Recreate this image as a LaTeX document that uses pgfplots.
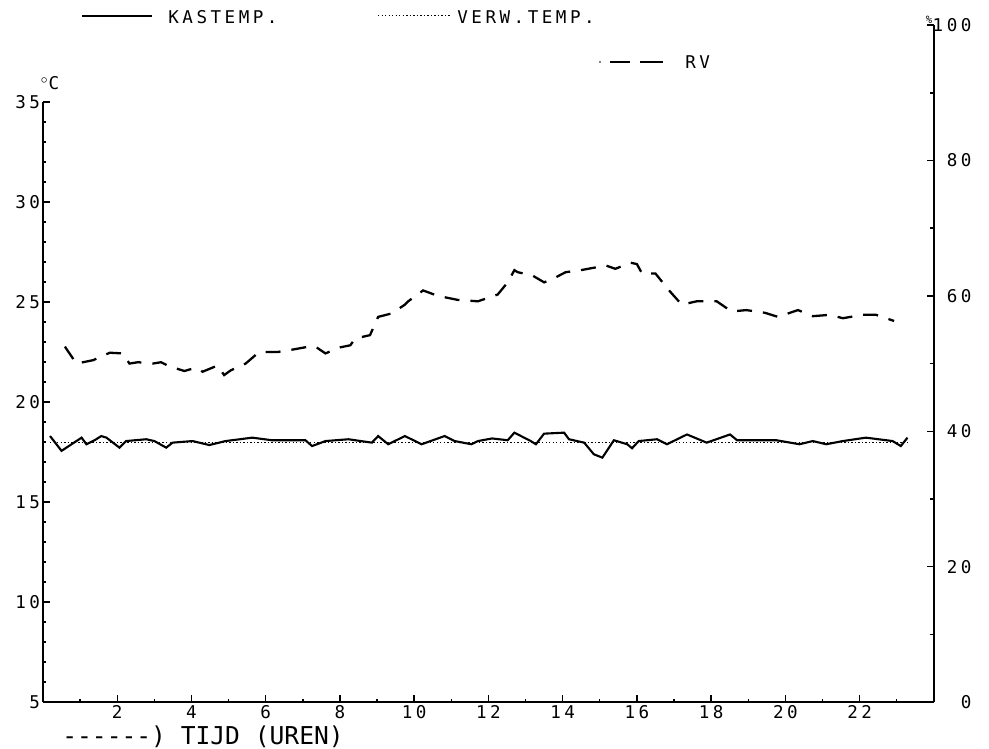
\documentclass[border=0pt]{standalone}
\usepackage{fontspec}
\setmainfont{DejaVu Sans Mono}
\newfontfamily\plotfont[LetterSpace=20]{DejaVu Sans Mono}
\usepackage{pgfplots}
\pgfplotsset{compat=1.18}

% kastemperatuur (graden C) tegen tijd (uren)
\pgfplotstableread{
h T
0.19 18.30
0.50 17.56
0.77 17.89
1.04 18.22
1.17 17.89
1.39 18.09
1.57 18.30
1.71 18.22
2.06 17.72
2.24 18.05
2.78 18.14
3.00 18.05
3.32 17.72
3.49 17.97
4.03 18.05
4.48 17.85
4.92 18.05
5.64 18.22
6.17 18.09
7.07 18.09
7.25 17.80
7.61 18.05
8.23 18.14
8.86 17.97
9.03 18.30
9.30 17.89
9.75 18.30
10.20 17.89
10.82 18.30
11.09 18.05
11.54 17.89
11.72 18.05
12.10 18.18
12.52 18.09
12.70 18.47
13.14 18.05
13.28 17.89
13.50 18.42
14.04 18.47
14.17 18.14
14.58 17.97
14.84 17.39
15.07 17.22
15.38 18.09
15.74 17.89
15.87 17.69
16.05 18.05
16.54 18.14
16.81 17.89
17.35 18.38
17.88 17.97
18.51 18.38
18.70 18.09
19.76 18.09
20.38 17.89
20.74 18.05
21.10 17.89
21.55 18.05
22.17 18.22
22.89 18.05
23.11 17.80
23.29 18.22
}\kastemp

% relatieve vochtigheid (%)
\pgfplotstableread{
h RV
0.59 52.5
0.90 50.0
1.35 50.5
1.80 51.6
2.15 51.5
2.33 50.0
2.56 50.2
2.96 50.0
3.18 50.2
3.40 49.6
3.81 48.9
4.12 49.4
4.30 48.8
4.70 49.7
4.88 48.3
5.06 49.0
5.46 50.0
5.82 51.7
6.31 51.7
6.76 52.1
7.16 52.5
7.34 52.5
7.61 51.5
8.01 52.4
8.28 52.7
8.41 53.7
8.81 54.2
9.03 56.9
9.39 57.4
9.75 58.7
9.84 59.2
10.24 60.8
10.64 60.0
11.18 59.4
11.72 59.2
12.25 60.2
12.52 62.0
12.70 63.8
12.79 63.5
13.19 63.0
13.50 62.0
13.73 62.5
14.08 63.5
14.49 63.8
14.98 64.3
15.16 64.5
15.42 64.0
15.83 64.9
16.00 64.7
16.14 63.3
16.50 63.3
16.90 60.6
17.21 58.7
17.61 59.2
18.15 59.2
18.55 57.7
18.95 57.9
19.45 57.5
19.80 56.9
20.34 57.9
20.74 57.0
21.19 57.2
21.55 56.7
22.08 57.2
22.44 57.2
22.93 56.3
}\rv

\begin{document}
\begin{tikzpicture}[x=0.02cm,y=0.02cm]
\path[use as bounding box] (0,0) rectangle (989,749);

\pgfplotsset{
  plotter/.style={
    scale only axis,
    at={(0.86cm,0.94cm)}, anchor=south west,
    width=17.82cm,
    xmin=0, xmax=24,
    axis line style={line width=1.3pt},
    tick align=inside,
    major tick length=0.14cm,
    minor tick length=0.07cm,
    every tick/.style={line width=0.8pt, black},
    tick label style={font=\plotfont\fontsize{10}{12}\selectfont},
    /pgf/number format/assume math mode=true,
  }
}

\begin{axis}[
  plotter,
  height=12cm,
  ymin=5, ymax=35,
  axis x line*=bottom,
  axis y line*=left,
  xtick={2,4,...,22},
  minor xtick={1,3,...,23},
  ytick={5,10,...,35},
  minor ytick={6,7,8,9,11,12,13,14,16,17,18,19,21,22,23,24,26,27,28,29,31,32,33,34},
  yticklabel style={inner sep=1.5pt},
  xticklabel style={inner sep=2pt},
]
  \addplot[black, line width=1.2pt] table[x=h, y=T] {\kastemp};
  \addplot[black, line width=0.5pt, dash pattern=on 0.8pt off 1.2pt] coordinates {(0.19,18) (23.3,18)};
\end{axis}

\begin{axis}[
  plotter,
  height=13.54cm,
  ymin=0, ymax=100,
  axis x line=none,
  axis y line*=right,
  ytick={0,20,...,100},
  minor ytick={10,30,...,90},
  yticklabel style={anchor=east, inner sep=0pt, xshift=0.76cm},
]
  \addplot[black, line width=1.3pt, dash pattern=on 0.3cm off 0.22cm] table[x=h, y=RV] {\rv};
\end{axis}

% legenda
\draw[line width=1pt] (82,733) -- (152,733);
\node[anchor=west, inner sep=0pt, font=\plotfont\fontsize{10}{12}\selectfont] at (168,732) {KASTEMP.};
\draw[line width=0.5pt, dash pattern=on 0.8pt off 1.2pt] (378,734) -- (450,734);
\node[anchor=west, inner sep=0pt, font=\plotfont\fontsize{10}{12}\selectfont] at (457,732) {VERW.TEMP.};
\fill (600,687) circle (0.9);
\draw[line width=1.3pt] (610,687) -- (630,687);
\draw[line width=1.3pt] (640,687) -- (663,687);
\node[anchor=west, inner sep=0pt, font=\plotfont\fontsize{10}{12}\selectfont] at (685,687) {RV};

% eenheden
\node[inner sep=0pt, font=\fontsize{10}{12}\selectfont] at (50,666) {$^\circ$C};
\node[inner sep=0pt, font=\fontsize{6}{7}\selectfont] at (929,729) {\%};

% x-as titel
\node[anchor=west, inner sep=0pt, font=\fontsize{14}{16}\selectfont] at (62,12) {-{}-{}-{}-{}-{}-) TIJD (UREN)};
\end{tikzpicture}
\end{document}
